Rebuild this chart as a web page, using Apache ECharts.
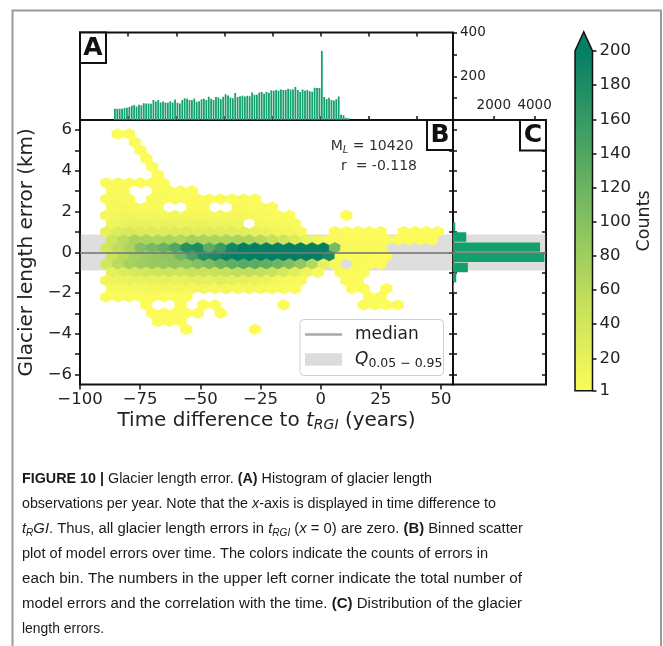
<!DOCTYPE html>
<html><head><meta charset="utf-8">
<script src="https://cdn.jsdelivr.net/npm/echarts@6/dist/echarts.min.js"></script>
<style>html,body{margin:0;padding:0;background:#fff}#c{width:663px;height:646px}</style>
</head><body><div id="c"></div>
<script>
const FONT = 'DejaVu Sans';
const CAP_FONT = 'Liberation Sans';

// ---------- Panel A: observations per year ----------
const histStartYear = -86;
const histCounts = [
  51,51,51,51,55,56,59,65,69,62,
  70,67,77,75,75,74,92,85,92,80,
  85,80,79,86,80,94,79,75,91,100,
  97,92,91,98,83,86,95,97,92,106,
  97,92,105,103,95,106,118,112,103,100,
  123,105,109,111,108,111,109,126,115,115,
  126,128,120,128,125,136,134,137,134,140,
  137,137,143,140,140,151,137,128,140,134,
  137,132,129,148,146,146,
  316,
  105,96,102,92,89,95,108,
  24,22,10,8
];
const aTicksX = [-80,-60,-40,-20,0,20,40];
const aTicksY = [100,200,300,400];
const aLabelsY = [200,400];

// ---------- Panel C: error distribution ----------
const errBinLower = [-2,-1.5,-1,-0.5,0,0.5,1];
const errBinCounts = [50,160,730,4480,4270,650,110];
const errBinWidth = 0.5;
const cTicksX = [2000,4000];

// ---------- Panel B: hexbin ----------
const medianErr = 0.0, q05 = -0.9, q95 = 0.87;
const nModel = 10420, corrR = '-0.118';
const bTicksX = [-100,-75,-50,-25,0,25,50];
const bTicksYAll = [-6,-5,-4,-3,-2,-1,0,1,2,3,4,5,6];
const bLabelsY = [-6,-4,-2,0,2,4,6];
// hex lattice (bin geometry)
const hexDX = 4.75, hexX0 = -98.57, hexDY = 0.4, hexY0 = 0.21, hexCol0 = 2;
const hexRowIndex = [14,13,12,11,10,9,8,7,6,5,4,3,2,1,0,-1,-2,-3,-4,-5,-6,-7,-8,-9,-10];
const hexCounts = [
 [0,1,1,0,0,0,0,0,0,0, 0,0,0,0,0,0,0,0,0,0, 0,0,0,0,0,0,0,0,0,0],
 [0,0,1,0,0,0,0,0,0,0, 0,0,0,0,0,0,0,0,0,0, 0,0,0,0,0,0,0,0,0,0],
 [0,0,0,1,0,0,0,0,0,0, 0,0,0,0,0,0,0,0,0,0, 0,0,0,0,0,0,0,0,0,0],
 [0,0,0,1,0,0,0,0,0,0, 0,0,0,0,0,0,0,0,0,0, 0,0,0,0,0,0,0,0,0,0],
 [0,0,0,0,1,0,0,0,0,0, 0,0,0,0,0,0,0,0,0,0, 0,0,0,0,0,0,0,0,0,0],
 [0,0,0,0,1,0,0,0,0,0, 0,0,0,0,0,0,0,0,0,0, 0,0,0,0,0,0,0,0,0,0],
 [2,3,2,2,2,1,0,0,0,0, 0,0,0,0,0,0,0,0,0,0, 0,0,0,0,0,0,0,0,0,0],
 [3,3,0,0,2,2,1,1,0,0, 0,0,0,0,0,0,0,0,0,0, 0,0,0,0,0,0,0,0,0,0],
 [4,5,3,0,3,3,2,2,2,2, 2,1,2,1,0,0,0,0,0,0, 0,0,0,0,0,0,0,0,0,0],
 [5,6,5,4,3,0,0,3,3,0, 0,3,2,2,1,0,0,0,0,0, 0,0,0,0,0,0,0,0,0,0],
 [7,9,10,8,7,7,8,7,6,7, 6,6,6,5,3,2,1,0,0,0, 0,1,0,0,0,0,0,0,0,0],
 [12,17,18,16,14,16,14,14,16,13, 13,12,0,8,5,4,2,0,0,0, 0,0,0,0,0,0,0,0,0,0],
 [20,30,34,30,29,28,29,30,28,29, 26,26,24,21,17,12,8,4,0,0, 2,1,1,1,1,0,1,1,1,1],
 [42,60,72,70,66,70,66,76,72,70, 70,72,70,62,52,42,30,16,8,3, 3,2,2,2,2,1,1,1,1,0],
 [40,55,70,100,112,122,140,175,180,130, 155,190,210,220,230,235,240,245,235,210, 110,5,3,3,2,0,0,0,0,0],
 [45,62,75,82,88,92,115,145,178,185, 195,218,228,238,242,246,246,242,238,185, 3,2,2,1,1,0,0,0,0,0],
 [40,60,75,80,86,88,92,90,100,106, 120,128,135,132,128,118,105,90,65,20, 4,0,3,2,2,0,0,0,0,0],
 [22,30,36,40,42,45,42,48,46,48, 52,55,55,52,46,36,24,12,4,0, 2,2,1,0,0,0,0,0,0,0],
 [10,13,16,18,19,21,19,21,22,21, 24,22,21,18,14,9,5,2,0,0, 0,2,1,0,0,0,0,0,0,0],
 [5,6,7,8,8,8,8,7,8,7, 8,7,6,5,3,2,1,0,0,0, 0,1,1,0,1,0,0,0,0,0],
 [2,2,2,1,2,1,1,1,0,0, 0,0,0,0,0,0,0,0,0,0, 0,0,0,1,1,0,0,0,0,0],
 [0,0,0,1,0,0,1,0,1,1, 0,0,0,0,0,1,0,0,0,0, 0,0,1,1,1,1,0,0,0,0],
 [0,0,0,0,1,1,1,1,1,0, 1,0,0,0,0,0,0,0,0,0, 0,0,0,0,0,0,0,0,0,0],
 [0,0,0,0,1,1,1,0,0,0, 0,0,0,0,0,0,0,0,0,0, 0,0,0,0,0,0,0,0,0,0],
 [0,0,0,0,0,0,0,1,0,0, 0,0,0,1,0,0,0,0,0,0, 0,0,0,0,0,0,0,0,0,0]
];

// ---------- colour bar ----------
const cbMin = 1, cbMax = 200;
const cbTicks = [1,20,40,60,80,100,120,140,160,180,200];
const cmapStops = [
  [0.00, '#fbfb5a'],
  [0.25, '#c6e15c'],
  [0.50, '#85c060'],
  [0.75, '#42a063'],
  [1.00, '#047f63']
];
const BAR_COLOR = '#14a06c';
const INK = '#111';

function hex2rgb(h){return [parseInt(h.slice(1,3),16),parseInt(h.slice(3,5),16),parseInt(h.slice(5,7),16)];}
function cmap(v){
  const t = Math.max(0, Math.min(1, (v - cbMin)/(cbMax - cbMin)));
  for (let i=1;i<cmapStops.length;i++){
    if (t <= cmapStops[i][0]){
      const a = cmapStops[i-1], b = cmapStops[i];
      const f = (t - a[0])/(b[0]-a[0]);
      const ca = hex2rgb(a[1]), cb = hex2rgb(b[1]);
      return 'rgb(' + ca.map((x,j)=>Math.round(x + (cb[j]-x)*f)).join(',') + ')';
    }
  }
  return cmapStops[cmapStops.length-1][1];
}
const fmt = v => v < 0 ? '\u2212' + Math.abs(v) : String(v);

// build hex data from bin indices
const hexData = [];
hexRowIndex.forEach((m, r) => {
  hexCounts[r].forEach((c, j) => {
    if (c > 0) {
      const k = hexCol0 + j + (Math.abs(m) % 2 ? 0.5 : 0);
      hexData.push([hexX0 + hexDX * k, hexY0 + hexDY * m, c]);
    }
  });
});
const histData = histCounts.map((c, i) => [histStartYear + i, c]);
const errData = errBinLower.map((lo, i) => [errBinCounts[i], lo]);

const chart = echarts.init(document.getElementById('c'), null, {renderer:'canvas', width:663, height:646});

const tickStyle = {color: INK, width: 1.5};
function vax(o){
  return Object.assign({type:'value', splitLine:{show:false}, axisLine:{show:false, onZero:false},
    axisLabel:{show:false}, nameTextStyle:{fontFamily:FONT}}, o);
}
const gridBase = {show:true, borderColor:INK, borderWidth:2, backgroundColor:'transparent', containLabel:false, outerBoundsMode:'none'};

// caption (condensed like the journal typeface)
const CAP_SIZE = 15.5;
const capLeft = 22;
const capLines = [
  '{b|FIGURE 10 |} Glacier length error. {b|(A)} Histogram of glacier length',
  'observations per year. Note that the {i|x}-axis is displayed in time difference to',
  '{i|t}{s|R}{i|GI}. Thus, all glacier length errors in {i|t}{s|RGI} ({i|x} = 0) are zero. {b|(B)} Binned scatter',
  'plot of model errors over time. The colors indicate the counts of errors in',
  'each bin. The numbers in the upper left corner indicate the total number of',
  'model errors and the correlation with the time. {b|(C)} Distribution of the glacier',
  'length errors.'
];
const capRightEdge = [432, 496, 523, 488, 522, 522, 104];
const capRich = {
  b:{fontWeight:'bold', fontFamily:CAP_FONT, fontSize:CAP_SIZE, fill:'#1a1a1a', lineHeight:20},
  i:{fontStyle:'italic', fontFamily:CAP_FONT, fontSize:CAP_SIZE, fill:'#1a1a1a', lineHeight:20},
  s:{fontStyle:'italic', fontFamily:CAP_FONT, fontSize:10.5, fill:'#1a1a1a', lineHeight:11, verticalAlign:'bottom'}
};
const measureCtx = document.createElement('canvas').getContext('2d');
function measureRich(str){
  const re = /\{(\w)\|([^}]*)\}|([^{]+)/g; let m, w = 0;
  while ((m = re.exec(str))) {
    if (m[1]) {
      const st = capRich[m[1]];
      measureCtx.font = (st.fontStyle === 'italic' ? 'italic ' : '') + (st.fontWeight === 'bold' ? 'bold ' : '') + st.fontSize + 'px "' + CAP_FONT + '"';
      w += measureCtx.measureText(m[2]).width;
    } else {
      measureCtx.font = CAP_SIZE + 'px "' + CAP_FONT + '"';
      w += measureCtx.measureText(m[3]).width;
    }
  }
  return w;
}

function letterBox(ch, x, y, w, h){
  return {type:'group', z:30, children:[
    {type:'rect', shape:{x:x, y:y, width:w, height:h}, style:{fill:'#fff', stroke:INK, lineWidth:2}, z:30},
    {type:'text', z:31, style:{text:ch, x:x+w/2, y:y+h/2+0.5, align:'center', verticalAlign:'middle', textAlign:'center', textVerticalAlign:'middle', fontFamily:FONT, fontWeight:'bold', fontSize:25, fill:INK}}
  ]};
}

const option = {
  animation:false,
  backgroundColor:'#fff',
  textStyle:{fontFamily:FONT},
  grid:[
    Object.assign({left:80, top:32.5, width:373, height:87.5}, gridBase),
    Object.assign({left:80, top:120, width:373, height:264.5}, gridBase),
    Object.assign({left:453, top:120, width:93, height:264.5}, gridBase),
    {left:575, top:51, width:17.5, height:339.7, show:false, containLabel:false, outerBoundsMode:'none'}
  ],
  xAxis:[
    vax({gridIndex:0, position:'bottom', min:-100, max:55, axisTick:{show:true, inside:true, length:4, customValues:aTicksX, lineStyle:tickStyle}}),
    vax({gridIndex:0, position:'top', min:-100, max:55, axisTick:{show:true, inside:true, length:4, customValues:aTicksX, lineStyle:tickStyle}}),
    vax({gridIndex:1, position:'bottom', min:-100, max:55,
      axisTick:{show:true, inside:false, length:5, customValues:bTicksX, lineStyle:tickStyle},
      axisLabel:{show:true, customValues:bTicksX, margin:7, fontSize:16.5, color:'#222', fontFamily:FONT, formatter:fmt},
      name:'{a|Time difference to }{t|t}{s|RGI}{a| (years)}', nameLocation:'middle', nameGap:24,
      nameTextStyle:{fontFamily:FONT, fontSize:20, color:'#222', rich:{
        a:{fontFamily:FONT, fontSize:20, color:'#222', lineHeight:24},
        t:{fontFamily:FONT, fontSize:20, fontStyle:'italic', color:'#222', lineHeight:24},
        s:{fontFamily:FONT, fontSize:14, fontStyle:'italic', color:'#222', lineHeight:14, verticalAlign:'bottom'}}}}),
    vax({gridIndex:2, position:'top', min:0, max:4560,
      axisTick:{show:true, inside:false, length:4, customValues:cTicksX, lineStyle:tickStyle},
      axisLabel:{show:true, customValues:cTicksX, margin:8, fontSize:13.5, color:'#222', fontFamily:FONT, formatter:v => String(v)}}),
    vax({gridIndex:3, min:0, max:1, show:false})
  ],
  yAxis:[
    vax({gridIndex:0, position:'right', min:0, max:400,
      axisTick:{show:true, inside:false, length:4, customValues:aTicksY, lineStyle:tickStyle},
      axisLabel:{show:true, customValues:aLabelsY, margin:7, fontSize:13.5, color:'#222', fontFamily:FONT}}),
    vax({gridIndex:1, position:'left', min:-6.5, max:6.5,
      axisTick:{show:true, inside:false, length:5, customValues:bTicksYAll, lineStyle:tickStyle},
      axisLabel:{show:true, customValues:bLabelsY, margin:8, fontSize:16.5, color:'#222', fontFamily:FONT, formatter:fmt},
      name:'Glacier length error (km)', nameLocation:'middle', nameGap:36, nameRotate:90,
      nameTextStyle:{fontFamily:FONT, fontSize:20, color:'#222'}}),
    vax({gridIndex:1, position:'right', min:-6.5, max:6.5,
      axisTick:{show:true, inside:true, length:4, customValues:bTicksYAll, lineStyle:tickStyle}}),
    vax({gridIndex:2, position:'left', min:-6.5, max:6.5,
      axisTick:{show:true, inside:true, length:4, customValues:bTicksYAll, lineStyle:tickStyle}}),
    vax({gridIndex:2, position:'right', min:-6.5, max:6.5,
      axisTick:{show:true, inside:true, length:4, customValues:bTicksYAll, lineStyle:tickStyle}}),
    vax({gridIndex:3, position:'right', min:cbMin, max:cbMax,
      axisTick:{show:true, inside:false, length:4, customValues:cbTicks, lineStyle:tickStyle},
      axisLabel:{show:true, customValues:cbTicks, margin:7, fontSize:16.5, color:'#222', fontFamily:FONT},
      name:'Counts', nameLocation:'middle', nameGap:43, nameRotate:90,
      nameTextStyle:{fontFamily:FONT, fontSize:17.5, color:'#222'}})
  ],
  legend:[
    {selectedMode:false, left:305, top:323.5, padding:0, z:20, itemWidth:37, itemHeight:2.5, icon:'rect',
      data:[{name:'median', itemStyle:{color:'#a9a9a9'}}],
      textStyle:{fontFamily:FONT, fontSize:17, color:'#222', lineHeight:22, padding:[0,0,0,8]}},
    {selectedMode:false, left:305, top:348.5, padding:0, z:20, itemWidth:37, itemHeight:12.5, icon:'rect',
      data:[{name:'Q', itemStyle:{color:'#dcdcdc'}}],
      formatter:() => '{q|Q}{s|0.05 \u2212 0.95}',
      textStyle:{fontFamily:FONT, fontSize:17, color:'#222', lineHeight:22, padding:[0,0,0,8], rich:{
        q:{fontFamily:FONT, fontSize:17, fontStyle:'italic', color:'#222', lineHeight:22},
        s:{fontFamily:FONT, fontSize:12.5, color:'#222', lineHeight:13, verticalAlign:'bottom'}}}}
  ],
  series:[
    {type:'custom', name:'obs', xAxisIndex:0, yAxisIndex:0, data:histData, encode:{x:0, y:1}, clip:true, z:2,
      renderItem:(p, api) => {
        const yr = api.value(0);
        const a = api.coord([yr + 0.13, api.value(1)]);
        const b = api.coord([yr + 0.87, 0]);
        return {type:'rect', shape:{x:a[0], y:a[1], width:b[0]-a[0], height:b[1]-a[1]}, style:{fill:BAR_COLOR}};
      }},
    {type:'custom', name:'hex', xAxisIndex:2, yAxisIndex:1, data:hexData, encode:{x:0, y:1}, clip:true, z:2,
      renderItem:(p, api) => {
        const c = api.coord([api.value(0), api.value(1)]);
        const s = api.size([hexDX, 2*hexDY]);
        const w = Math.abs(s[0])/2, h = Math.abs(s[1])/3;
        const pts = [[c[0]+w, c[1]-h/2],[c[0]+w, c[1]+h/2],[c[0], c[1]+h],[c[0]-w, c[1]+h/2],[c[0]-w, c[1]-h/2],[c[0], c[1]-h]];
        const col = cmap(api.value(2));
        return {type:'polygon', shape:{points:pts}, style:{fill:col, stroke:col, lineWidth:0.6}};
      }},
    {type:'line', name:'Q', xAxisIndex:2, yAxisIndex:1, data:[], z:5, silent:true,
      markArea:{silent:true, itemStyle:{color:'rgba(128,128,128,0.26)'}, data:[[{yAxis:q05},{yAxis:q95}]]}},
    {type:'line', name:'median', xAxisIndex:2, yAxisIndex:1, data:[], z:6, silent:true,
      markLine:{silent:true, symbol:['none','none'], label:{show:false},
        lineStyle:{color:'rgba(120,120,120,0.8)', width:2, type:'solid'}, data:[{yAxis:medianErr}]}},
    {type:'line', name:'Qc', xAxisIndex:3, yAxisIndex:3, data:[], z:1, silent:true,
      markArea:{silent:true, itemStyle:{color:'rgba(128,128,128,0.26)'}, data:[[{yAxis:q05},{yAxis:q95}]]},
      markLine:{silent:true, symbol:['none','none'], label:{show:false},
        lineStyle:{color:'rgba(120,120,120,0.8)', width:2, type:'solid'}, data:[{yAxis:medianErr}]}},
    {type:'custom', name:'dist', xAxisIndex:3, yAxisIndex:3, data:errData, encode:{x:0, y:1}, clip:true, z:3,
      renderItem:(p, api) => {
        const lo = api.value(1);
        const a = api.coord([0, lo + errBinWidth*0.96]);
        const b = api.coord([api.value(0), lo + errBinWidth*0.04]);
        return {type:'rect', shape:{x:a[0], y:a[1], width:b[0]-a[0], height:b[1]-a[1]}, style:{fill:BAR_COLOR}};
      }},
    {type:'custom', name:'cbar', xAxisIndex:4, yAxisIndex:5, data:[[0, cbMin]], encode:{x:0, y:1}, z:2,
      renderItem:(p, api) => {
        const bl = api.coord([0, cbMin]), tr = api.coord([1, cbMax]);
        const x0 = bl[0], x1 = tr[0], yb = bl[1], yt = tr[1];
        const tip = yt - (x1 - x0) * 1.1;
        return {type:'group', children:[
          {type:'rect', shape:{x:x0, y:yt, width:x1-x0, height:yb-yt},
            style:{fill:{type:'linear', x:0, y:1, x2:0, y2:0, global:false,
              colorStops:cmapStops.map(s => ({offset:s[0], color:s[1]}))}}},
          {type:'polygon', shape:{points:[[x0,yt],[x1,yt],[(x0+x1)/2,tip]]}, style:{fill:cmapStops[cmapStops.length-1][1]}},
          {type:'polygon', shape:{points:[[x0,yb],[x0,yt],[(x0+x1)/2,tip],[x1,yt],[x1,yb]]}, style:{fill:'none', stroke:INK, lineWidth:1.5}}
        ]};
      }}
  ],
  graphic:[
    {type:'rect', z:0, silent:true, shape:{x:12.5, y:10.5, width:648.5, height:700}, style:{fill:'none', stroke:'#9a9a9a', lineWidth:2}},
    letterBox('A', 80, 32.5, 26, 30.5),
    letterBox('B', 427, 120, 26, 30),
    letterBox('C', 520, 120, 26, 30.5),
    {type:'text', z:20, style:{text:'{a|M}{s|L}{a| = ' + nModel + '}', x:413.5, y:146.5, align:'right', verticalAlign:'middle', textAlign:'right', textVerticalAlign:'middle',
      fontFamily:FONT, fontSize:14, fill:'#333', rich:{
        a:{fontFamily:FONT, fontSize:14, fill:'#333', lineHeight:18},
        s:{fontFamily:FONT, fontSize:10, fontStyle:'italic', fill:'#333', lineHeight:10, verticalAlign:'bottom'}}}},
    {type:'text', z:20, style:{text:'r  = ' + corrR, x:417, y:166.5, align:'right', verticalAlign:'middle', textAlign:'right', textVerticalAlign:'middle', fontFamily:FONT, fontSize:14, fill:'#333'}},
    {type:'rect', z:10, silent:true, shape:{x:300, y:319.5, width:143.5, height:56, r:4}, style:{fill:'rgba(255,255,255,0.85)', stroke:'#cfcfcf', lineWidth:1}}
  ].concat(capLines.map((t, i) => ({type:'text', z:20, x:capLeft, y:479 + 25*i,
      scaleX:(capRightEdge[i] - capLeft) / measureRich(t), scaleY:1,
      style:{text:t, x:0, y:0,
      align:'left', verticalAlign:'middle', textAlign:'left', textVerticalAlign:'middle',
      fontFamily:CAP_FONT, fontSize:CAP_SIZE, fill:'#1a1a1a', lineHeight:20, rich:capRich}})))
};
chart.setOption(option);
</script></body></html>
